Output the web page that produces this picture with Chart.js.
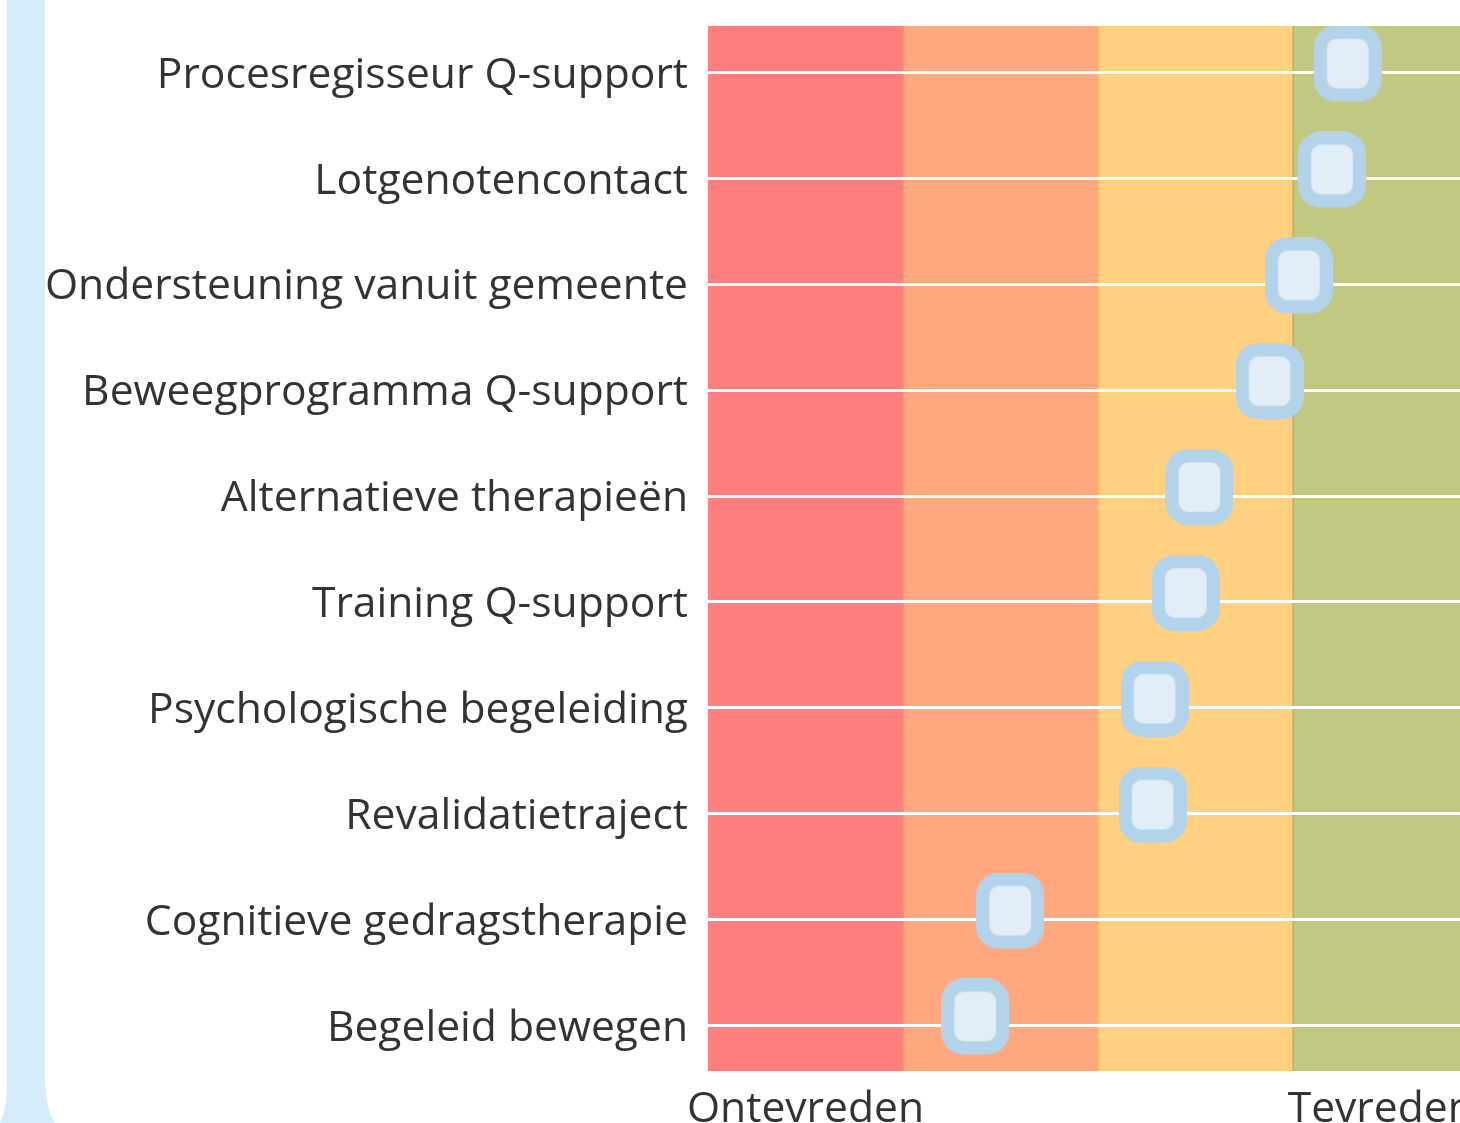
<!DOCTYPE html>
<html>
<head>
<meta charset="utf-8">
<script src="https://cdn.jsdelivr.net/npm/chart.js@4"></script>
<style>
  html, body { margin: 0; padding: 0; background: #fff; overflow: hidden; width: 1460px; height: 1123px; }
  #canvas { display: block; }
</style>
</head>
<body>
<canvas id="canvas" width="1488" height="1123"></canvas>
<script>
const categories = [
    'Procesregisseur Q-support',
    'Lotgenotencontact',
    'Ondersteuning vanuit gemeente',
    'Beweegprogramma Q-support',
    'Alternatieve therapieën',
    'Training Q-support',
    'Psychologische begeleiding',
    'Revalidatietraject',
    'Cognitieve gedragstherapie',
    'Begeleid bewegen',
]
const scores = [4.28, 4.20, 4.03, 3.88, 3.52, 3.45, 3.29, 3.28, 2.55, 2.37]

const xTickValues = [1.5, 4.45]
const xTickLabels = ['Ontevreden', 'Tevreden']

const bandEdges = [1, 2, 3, 4, 5]
const bandColors = ['#ff7f7f', '#ffa87f', '#ffd07f', '#c0c881']
const bandLineColors = [null, '#ff8a5c', '#ffba4a', '#b5a64e']

// rounded square marker, drawn a bit above the centre like the original
function makeMarker() {
    const w = 68, h = 76, lift = 9
    const c = document.createElement('canvas')
    c.width = w
    c.height = h + lift * 2
    const g = c.getContext('2d')
    g.fillStyle = '#b3d3ea'
    g.beginPath()
    g.roundRect(0, 0, w, h, 22)
    g.fill()
    g.fillStyle = '#e1eef8'
    g.strokeStyle = '#d6e7f4'
    g.lineWidth = 1
    g.beginPath()
    g.roundRect(13.5, 13.5, w - 27, h - 27, 9)
    g.fill()
    g.stroke()
    return c
}

const backdrop = {
    id: 'backdrop',
    beforeDraw(chart) {
        const { ctx, chartArea, scales } = chart
        ctx.save()
        // light blue bar on the far left
        ctx.fillStyle = '#d3eefa'
        ctx.beginPath()
        ctx.moveTo(7, 0)
        ctx.lineTo(45, 0)
        ctx.lineTo(45, 1080)
        ctx.quadraticCurveTo(46, 1110, 55, 1123)
        ctx.lineTo(0, 1123)
        ctx.quadraticCurveTo(7, 1108, 7, 1080)
        ctx.closePath()
        ctx.fill()

        for (let i = 0; i < bandColors.length; i++) {
            const x0 = scales.x.getPixelForValue(bandEdges[i])
            const x1 = scales.x.getPixelForValue(bandEdges[i + 1])
            ctx.fillStyle = bandColors[i]
            ctx.fillRect(x0, chartArea.top, x1 - x0, chartArea.bottom - chartArea.top)
            if (bandLineColors[i]) {
                ctx.fillStyle = bandLineColors[i]
                ctx.fillRect(x0 - 0.5, chartArea.top, 1.2, chartArea.bottom - chartArea.top)
            }
        }
        ctx.restore()
    }
}

const Chart = window.Chart
Chart.defaults.font.family = "'Open Sans', sans-serif"
Chart.defaults.color = '#333333'

const labelFont = { size: 42.6 }

function draw() {
    const ctx = document.getElementById('canvas')
    new Chart(ctx, {
        type: 'scatter',
        data: {
            datasets: [{
                label: 'Tevredenheid',
                data: scores.map((v, i) => ({ x: v, y: i })),
                pointStyle: makeMarker(),
                pointRadius: 34,
                pointHoverRadius: 34,
                clip: false,
            }],
        },
        options: {
            responsive: false,
            animation: false,
            layout: { autoPadding: false, padding: { top: 26, right: 0, left: 0, bottom: 0 } },
            plugins: {
                legend: { display: false },
                tooltip: { enabled: false },
            },
            scales: {
                x: {
                    type: 'linear',
                    min: bandEdges[0],
                    max: bandEdges[bandEdges.length - 1],
                    grid: { display: false, drawTicks: false },
                    border: { display: false },
                    afterBuildTicks(scale) {
                        scale.ticks = xTickValues.map(v => ({ value: v }))
                    },
                    afterFit(scale) {
                        scale.paddingLeft = 0
                        scale.paddingRight = 0
                        scale.height = 52
                    },
                    ticks: {
                        padding: 13,
                        maxRotation: 0,
                        autoSkip: false,
                        font: labelFont,
                        color: '#333333',
                        callback: (v) => xTickLabels[xTickValues.indexOf(v)],
                    },
                },
                y: {
                    type: 'linear',
                    reverse: true,
                    min: -0.44,
                    max: categories.length - 1 + 0.43,
                    grid: { color: '#ffffff', lineWidth: 3, drawTicks: false },
                    border: { display: false },
                    afterBuildTicks(scale) {
                        scale.ticks = categories.map((c, i) => ({ value: i }))
                    },
                    afterFit(scale) {
                        scale.width = 708
                        scale.paddingTop = 0
                        scale.paddingBottom = 0
                    },
                    ticks: {
                        padding: 20,
                        labelOffset: 3,
                        autoSkip: false,
                        font: labelFont,
                        color: '#333333',
                        callback: (v) => categories[v],
                    },
                },
            },
        },
        plugins: [backdrop],
    })
}

if (document.fonts && document.fonts.load) {
    document.fonts.load("42px 'Open Sans'").then(draw, draw)
} else {
    draw()
}
</script>
</body>
</html>
